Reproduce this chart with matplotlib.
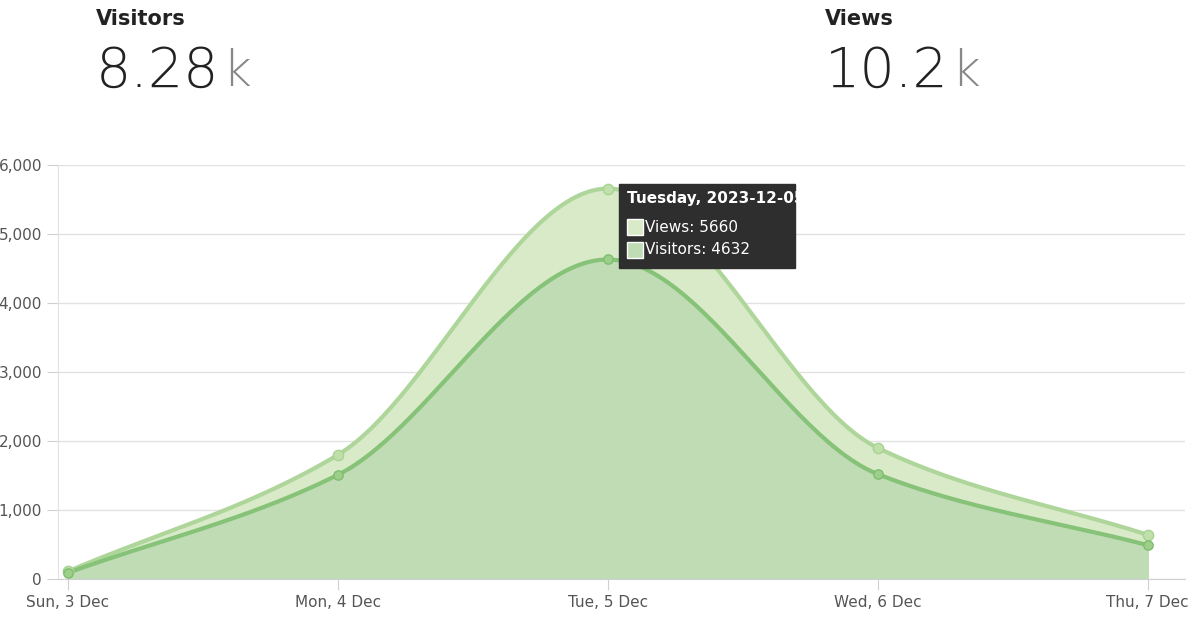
import numpy as np
import matplotlib
matplotlib.use("Agg")
import matplotlib.pyplot as plt

days = ["Sun, 3 Dec", "Mon, 4 Dec", "Tue, 5 Dec", "Wed, 6 Dec", "Thu, 7 Dec"]
views = [110, 1800, 5660, 1900, 640]
visitors = [90, 1510, 4632, 1520, 490]

def smooth(y, n=60):
    y = np.asarray(y, float); x = np.arange(len(y))
    d = np.diff(y)
    m = np.zeros(len(y))
    for i in range(1, len(y)-1):
        m[i] = 0 if d[i-1]*d[i] <= 0 else 2/(1/d[i-1]+1/d[i])
    m[0] = d[0]; m[-1] = d[-1]
    xs, ys = [], []
    for i in range(len(y)-1):
        t = np.linspace(0, 1, n)
        h00 = 2*t**3-3*t**2+1; h10 = t**3-2*t**2+t; h01 = -2*t**3+3*t**2; h11 = t**3-t**2
        xs.append(i+t); ys.append(h00*y[i]+h10*m[i]+h01*y[i+1]+h11*m[i+1])
    return np.concatenate(xs), np.concatenate(ys)

fig = plt.figure(figsize=(12, 6.29), dpi=100)
ax = fig.add_axes([0.0483, 0.0795, 0.939, 0.658])
x = np.arange(len(days))
vx, vy = smooth(views)
ux, uy = smooth(visitors)
ax.fill_between(vx, vy, color="#d8eac8", zorder=1)
ax.fill_between(ux, uy, color="#bfdcb5", zorder=2)
ax.plot(vx, vy, color="#aed69a", lw=3, zorder=3)
ax.plot(ux, uy, color="#86c277", lw=3, zorder=4)
ax.scatter(x, views, s=55, color="#bfe0a8", edgecolor="#a8d394", zorder=5)
ax.scatter(x, visitors, s=45, color="#9ccf8a", edgecolor="#7fbd70", zorder=6)

ax.set_xlim(-0.037, 4.137)
ax.set_ylim(0, 6000)
ax.set_yticks(range(0, 6001, 1000))
ax.set_yticklabels([f"{v:,}" for v in range(0, 6001, 1000)])
ax.set_xticks(x)
ax.set_xticklabels(days)
ax.grid(axis="y", color="#e2e2e2", lw=1)
ax.set_axisbelow(True)
for s in ["top", "right"]:
    ax.spines[s].set_visible(False)
ax.spines["left"].set_color("#e2e2e2")
ax.spines["bottom"].set_color("#d0d0d0")
ax.tick_params(colors="#555555", labelsize=11, length=8, color="#d0d0d0")

# tooltip
fig.patches.append(plt.Rectangle((619/1200, 1-268/629), 176/1200, 84/629,
                                 transform=fig.transFigure, color="#2e2e2e", zorder=10))
fig.text(627/1200, 1-199/629, "Tuesday, 2023-12-05", color="white", fontsize=11, fontweight="bold", va="center", zorder=11)
for yy, txt, c in [(227, "Views: 5660", "#d8eac8"), (250, "Visitors: 4632", "#bfdcb5")]:
    fig.patches.append(plt.Rectangle((627/1200, 1-(yy+8)/629), 16/1200, 16/629,
                                     transform=fig.transFigure, facecolor=c, edgecolor="white", zorder=11))
    fig.text(645/1200, 1-yy/629, txt, color="white", fontsize=11, va="center", zorder=11)

for xx, lab, num in [(96, "Visitors", "8.28"), (825, "Views", "10.2")]:
    fig.text(xx/1200, 1-19/629, lab, fontsize=15, fontweight="semibold", color="#222222", va="center")
    t = fig.text(xx/1200, 1-72/629, num, fontsize=40, fontweight="light", color="#222222", va="center")
    fig.canvas.draw()
    bb = t.get_window_extent()
    fig.text(bb.x1/1200 + 0.002, 1-72/629, "k", fontsize=36, fontweight="light", color="#888888", va="center")

fig.savefig("out.png", dpi=100)
